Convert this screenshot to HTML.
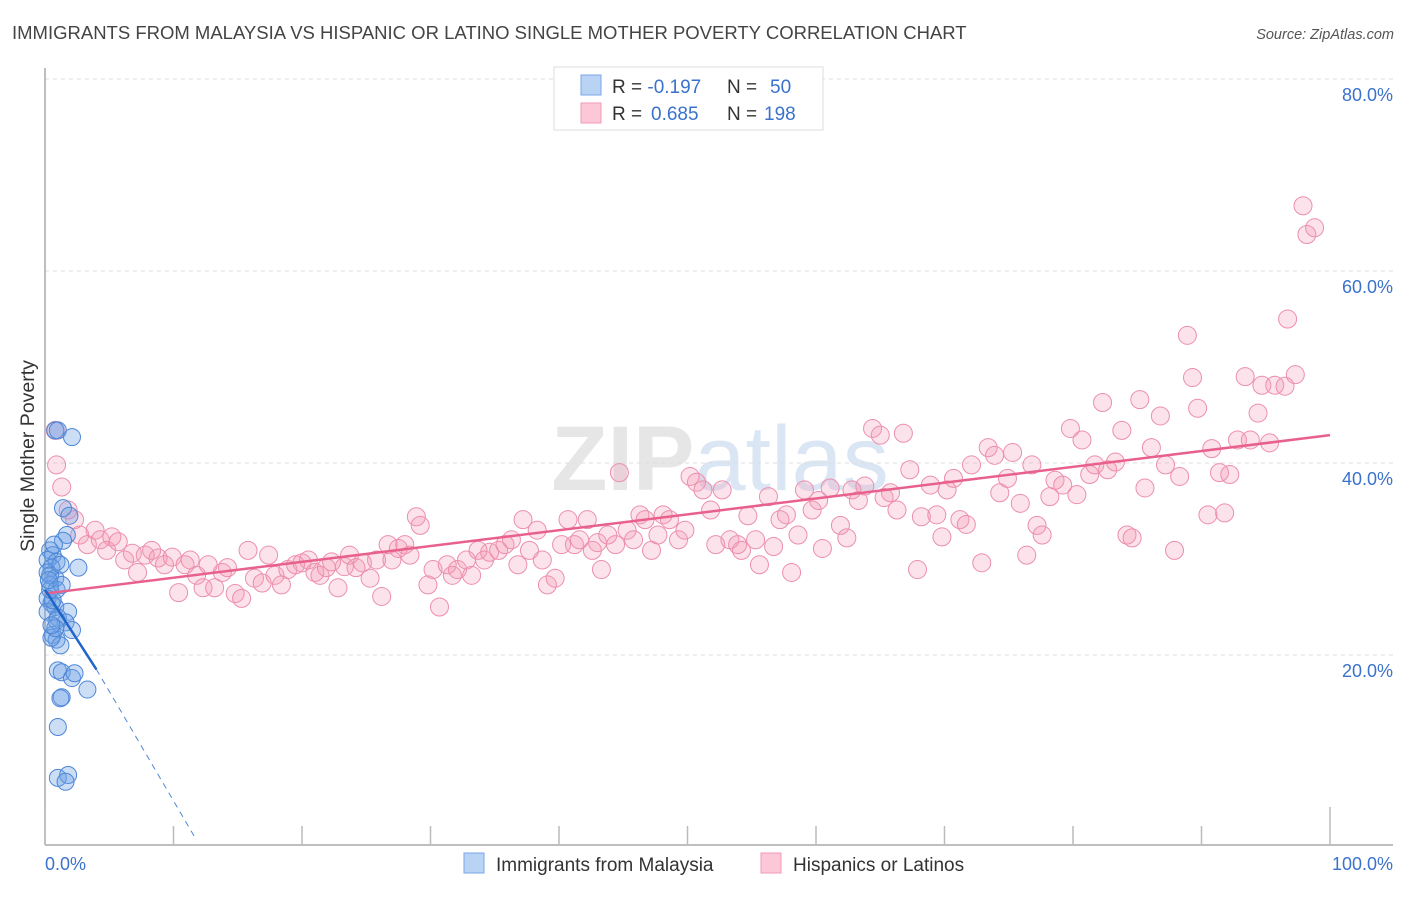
<!DOCTYPE html>
<html><head><meta charset="utf-8"><style>
body{margin:0;background:#fff;font-family:"Liberation Sans",sans-serif}
svg text{font-family:"Liberation Sans",sans-serif}
</style></head><body>
<svg id="chart" width="1406" height="892" xmlns="http://www.w3.org/2000/svg">
<text x="12" y="39" font-size="18.5" fill="#444">IMMIGRANTS FROM MALAYSIA VS HISPANIC OR LATINO SINGLE MOTHER POVERTY CORRELATION CHART</text>
<text x="1394" y="39" font-size="14.5" fill="#555" font-style="italic" text-anchor="end">Source: ZipAtlas.com</text>
<text x="720" y="490" font-size="92" fill="#e6e6e6" text-anchor="middle" font-weight="bold">ZIP<tspan fill="#dbe6f5" font-weight="normal">atlas</tspan></text>
<g id="grid"></g>
<g id="axes"></g>
<g id="pink"></g>
<g id="blue"></g>
<g id="trends"></g>
<text transform="translate(34,456) rotate(-90)" font-size="19.5" fill="#333" text-anchor="middle">Single Mother Poverty</text>
<g>
<rect x="554" y="67" width="269" height="63" fill="#fff" stroke="#ddd"/>
<rect x="581" y="75" width="20" height="20" fill="#b9d3f5" stroke="#7aa6e6"/>
<rect x="581" y="103" width="20" height="20" fill="#fcc8d8" stroke="#f29bb7"/>
<text x="612" y="93" font-size="19" fill="#333">R = <tspan fill="#3a72cc">-0.197</tspan><tspan x="727">N = </tspan><tspan x="770" fill="#3a72cc">50</tspan></text>
<text x="612" y="120" font-size="19" fill="#333">R = <tspan x="651" fill="#3a72cc">0.685</tspan><tspan x="727">N = </tspan><tspan x="764" fill="#3a72cc">198</tspan></text>
</g>
<g>
<rect x="464" y="853" width="20" height="20" fill="#b9d3f5" stroke="#7aa6e6"/>
<text x="496" y="871" font-size="19" fill="#333">Immigrants from Malaysia</text>
<rect x="761" y="853" width="20" height="20" fill="#fcc8d8" stroke="#f29bb7"/>
<text x="793" y="871" font-size="19" fill="#333">Hispanics or Latinos</text>
</g>
</svg>
<script>
const yTicks=[20,40,60,80];
const yTickLabels=["20.0%","40.0%","60.0%","80.0%"];
const xTicks=[0,10,20,30,40,50,60,70,80,90,100];
const pinkX=[0.8,0.9,1.3,1.8,2.3,2.7,3.3,3.9,4.3,4.8,5.2,5.7,6.2,6.8,7.2,7.8,8.3,8.8,9.3,9.9,10.4,10.9,11.3,11.8,12.3,12.7,13.2,13.8,14.2,14.8,15.3,15.8,16.3,16.9,17.4,17.9,18.4,18.9,19.5,20.0,20.5,21.0,21.4,21.9,22.3,22.8,23.3,23.7,24.2,24.7,25.3,25.8,26.2,26.7,27.0,27.5,28.0,28.4,28.9,29.2,29.8,30.2,30.7,31.3,31.7,32.1,32.8,33.2,33.7,34.2,34.6,35.3,35.8,36.3,36.8,37.2,37.7,38.3,38.7,39.1,39.7,40.2,40.7,41.2,41.6,42.2,42.6,43.0,43.3,43.8,44.4,44.7,45.3,45.8,46.3,46.7,47.2,47.7,48.1,48.6,49.3,49.8,50.2,50.7,51.2,51.8,52.2,52.7,53.3,53.9,54.2,54.7,55.3,55.6,56.3,56.7,57.2,57.7,58.1,58.6,59.1,59.7,60.2,60.5,61.1,61.9,62.4,62.8,63.3,63.8,64.4,65.0,65.3,65.8,66.3,66.8,67.3,67.9,68.2,68.9,69.4,69.8,70.2,70.7,71.2,71.7,72.1,72.9,73.4,73.9,74.3,74.9,75.3,75.9,76.4,76.8,77.2,77.6,78.2,78.6,79.2,79.8,80.3,80.7,81.3,81.7,82.3,82.7,83.3,83.8,84.2,84.6,85.2,85.6,86.1,86.8,87.2,87.9,88.3,88.9,89.3,89.7,90.5,90.8,91.4,91.8,92.2,92.8,93.4,93.8,94.4,94.7,95.3,95.7,96.5,96.7,97.3,97.9,98.2,98.8];
const pinkY=[43.4,39.8,37.5,35.1,34.1,32.5,31.5,33.0,32.0,30.9,32.3,31.8,29.9,30.6,28.6,30.4,30.9,30.1,29.4,30.2,26.5,29.4,29.9,28.3,27.0,29.4,27.0,28.6,29.1,26.4,25.9,30.9,28.0,27.5,30.4,28.3,27.3,28.9,29.4,29.6,29.9,28.6,28.3,29.1,29.7,27.0,29.2,30.4,29.1,29.6,28.0,29.9,26.1,31.5,29.9,31.1,31.5,30.4,34.4,33.5,27.3,28.9,25.0,29.4,28.3,28.9,29.9,28.3,30.9,29.9,30.7,30.9,31.5,32.0,29.4,34.1,30.9,33.0,29.9,27.3,28.0,31.5,34.1,31.5,32.0,34.1,30.9,31.7,28.9,32.5,31.5,39.0,33.0,32.0,34.6,34.1,30.9,32.5,34.6,34.1,32.0,33.0,38.6,38.0,37.2,35.1,31.5,37.2,32.0,31.5,30.9,34.5,32.0,29.4,36.5,31.3,34.1,34.6,28.6,32.5,37.2,35.1,36.1,31.1,37.4,33.5,32.2,37.2,36.1,37.6,43.6,42.9,36.4,36.9,35.1,43.1,39.3,28.9,34.4,37.7,34.6,32.3,37.2,38.4,34.1,33.6,39.8,29.6,41.6,40.8,36.9,38.4,41.1,35.8,30.4,39.8,33.5,32.5,36.5,38.2,37.7,43.6,36.7,42.4,38.8,39.8,46.3,39.3,40.1,43.4,32.5,32.2,46.6,37.4,41.6,44.9,39.8,30.9,38.6,53.3,48.9,45.7,34.6,41.5,39.0,34.8,38.8,42.4,49.0,42.4,45.2,48.1,42.1,48.1,48.0,55.0,49.2,66.8,63.8,64.5];
const blueX=[0.8,1.0,2.1,1.4,1.9,1.7,1.4,0.4,0.6,0.2,0.9,0.5,0.2,0.8,2.6,0.4,0.9,0.2,0.5,0.8,0.2,1.8,1.0,1.6,2.1,0.6,0.9,1.2,0.5,1.0,1.3,2.1,2.3,3.3,1.3,1.2,1.0,1.0,1.8,1.6,0.6,0.4,0.9,0.8,0.4,1.2,0.7,0.3,1.3,0.5];
const blueY=[43.4,43.4,42.7,35.3,34.5,32.5,31.9,30.9,30.4,29.9,29.7,29.1,28.6,28.0,29.1,27.3,26.8,25.9,25.4,25.0,24.5,24.5,23.9,23.4,22.6,22.1,21.6,21.0,21.8,18.4,18.2,17.6,18.1,16.4,15.6,15.5,12.5,7.2,7.5,6.8,25.7,26.8,23.6,22.8,28.3,29.4,31.5,27.8,27.3,23.1];
const pinkTrend=[[0,26.4],[100,42.9]];
const blueTrendSolid=[[0,26.8],[4,18.5]];
const blueTrendDash=[[4,18.5],[11.8,0.7]];

const NS="http://www.w3.org/2000/svg";
const X=v=>45+v*12.85, Y=v=>847-v*9.6;
function mk(tag,attrs,parent){const e=document.createElementNS(NS,tag);for(const k in attrs)e.setAttribute(k,attrs[k]);parent.appendChild(e);return e;}
const grid=document.getElementById('grid'),axes=document.getElementById('axes');
yTicks.forEach((t,i)=>{
 const l=mk('line',{x1:45,x2:1393,y1:Y(t),y2:Y(t),stroke:'#ddd','stroke-dasharray':'4,4'},grid);
 
 
 const tx=mk('text',{x:1393,y:Y(t)+22,'font-size':18,fill:'#3a72cc','text-anchor':'end'},axes);
 tx.textContent=yTickLabels[i];
 
 
});
const ya=mk('line',{x1:45,x2:45,y1:68,y2:845,stroke:'#aaa','stroke-width':1.5},axes);


const xa=mk('line',{x1:45,x2:1393,y1:845,y2:845,stroke:'#aaa','stroke-width':1.5},axes);


xTicks.forEach(t=>{
 const tk=mk('line',{x1:X(t),x2:X(t),y1:(t===0||t===100)?807:826,y2:845,stroke:'#bbb','stroke-width':1.5},axes);
 
 
});
const x0=mk('text',{x:45,y:870,'font-size':18,fill:'#3a72cc'},axes);x0.textContent='0.0%';


const x1=mk('text',{x:1393,y:870,'font-size':18,fill:'#3a72cc','text-anchor':'end'},axes);x1.textContent='100.0%';


const pg=document.getElementById('pink');
pinkX.forEach((v,i)=>{
 const c=mk('circle',{cx:X(v),cy:Y(pinkY[i]),r:9,fill:'rgba(244,150,180,0.28)',stroke:'#ec8fae','stroke-width':1},pg);
 
 
});
const bg=document.getElementById('blue');
blueX.forEach((v,i)=>{
 const c=mk('circle',{cx:X(v),cy:Y(blueY[i]),r:8.5,fill:'rgba(110,160,230,0.35)',stroke:'#4f87d6','stroke-width':1},bg);
 
 
});
const tg=document.getElementById('trends');
const pt=mk('line',{x1:X(pinkTrend[0][0]),y1:Y(pinkTrend[0][1]),x2:X(pinkTrend[1][0]),y2:Y(pinkTrend[1][1]),stroke:'#e8608c','stroke-width':2.5},tg);


const bs=mk('line',{x1:X(blueTrendSolid[0][0]),y1:Y(blueTrendSolid[0][1]),x2:X(blueTrendSolid[1][0]),y2:Y(blueTrendSolid[1][1]),stroke:'#2066c8','stroke-width':2.5},tg);


const bd=mk('line',{x1:X(blueTrendDash[0][0]),y1:Y(blueTrendDash[0][1]),x2:X(blueTrendDash[1][0]),y2:Y(blueTrendDash[1][1]),stroke:'#4f87d6','stroke-width':1,'stroke-dasharray':'6,5'},tg);


</script>
</body></html>
